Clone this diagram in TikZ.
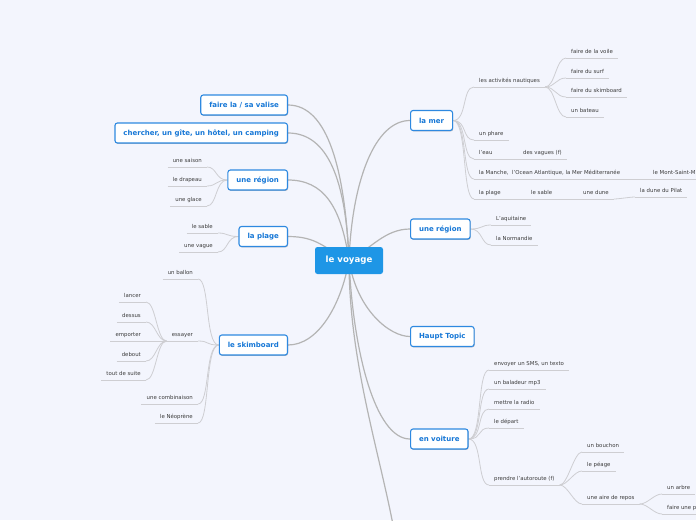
\documentclass[tikz,border=0pt]{standalone}
\usepackage{fontspec}
\setmainfont{DejaVu Sans}
\usetikzlibrary{shadows}
\pgfdeclarelayer{background}
\pgfdeclarelayer{edges}
\pgfsetlayers{background,edges,main}
\definecolor{bgc}{RGB}{243,245,253}
\definecolor{rootblue}{RGB}{30,150,230}
\definecolor{boxblue}{RGB}{46,137,224}
\definecolor{topicblue}{RGB}{22,119,214}
\definecolor{leaftext}{RGB}{60,60,60}
\definecolor{maingray}{RGB}{180,180,180}
\definecolor{subgray}{RGB}{206,206,210}
\begin{document}
\begin{tikzpicture}[x=1pt,y=-1pt,
  topic/.style={draw=boxblue, line width=1.1pt, fill=white, rounded corners=2.5pt,
    text=topicblue, font=\bfseries\fontsize{7.0}{8}\selectfont, inner xsep=8.5pt,
    minimum height=20pt,
    drop shadow={shadow xshift=0.6pt, shadow yshift=-0.9pt, opacity=0.25, fill=black}},
  rootbox/.style={fill=rootblue, rounded corners=2.5pt, text=white,
    font=\bfseries\fontsize{8.6}{10}\selectfont, minimum width=68pt, minimum height=27pt},
  leaf/.style={font=\fontsize{5.4}{6}\selectfont, text=leaftext, inner xsep=5pt,
    inner ysep=4.1pt, text depth=0pt},
  leafR/.style={leaf, anchor=south west},
  leafL/.style={leaf, anchor=south east},
  mainc/.style={draw=maingray, line width=1.2pt},
  subc/.style={draw=subgray, line width=0.8pt},
  uline/.style={draw=subgray, line width=0.8pt}
]
\useasboundingbox (0,0) rectangle (696,520);
\begin{pgfonlayer}{background}
\fill[bgc] (0,0) rectangle (696,520);
\end{pgfonlayer}

% root and topics
\node[rootbox] (root) at (349,260.5) {le voyage};
\node[topic, anchor=east] (valise) at (288,105) {faire la / sa valise};
\node[topic, anchor=east] (cherch) at (288,133) {chercher, un gîte, un hôtel, un camping};
\node[topic, anchor=east] (regL) at (288,180) {une région};
\node[topic, anchor=east] (plageL) at (288,236.5) {la plage};
\node[topic, anchor=east] (skim) at (288,345) {le skimboard};
\node[topic, anchor=west] (mer) at (410,120.5) {la mer};
\node[topic, anchor=west] (regR) at (410,229) {une région};
\node[topic, anchor=west] (haupt) at (410,336.5) {Haupt Topic};
\node[topic, anchor=west] (voit) at (410,439) {en voiture};
\coordinate (off) at (394,530);

% la mer leaves
\node[leafR] (act) at (474,87) {les activités nautiques};
\node[leafR] (voile) at (566,58) {faire de la voile};
\node[leafR] (surf) at (566,78) {faire du surf};
\node[leafR] (skb) at (566,97) {faire du skimboard};
\node[leafR] (bateau) at (566,117) {un bateau};
\node[leafR] (phare) at (474,140) {un phare};
\node[leafR] (eau) at (474,159) {l'eau};
\node[leafR] (vagues) at (518,159) {des vagues (f)};
\node[leafR] (manche) at (474,179) {la Manche,};
\node[leafR] (ocean) at (507,179) {l'Ocean Atlantique, la Mer Méditerranée};
\node[leafR] (mont) at (648,179) {le Mont-Saint-Michel};
\node[leafR] (plageR) at (474,199) {la plage};
\node[leafR] (sableR) at (526,199) {le sable};
\node[leafR] (dune) at (578,199) {une dune};
\node[leafR] (pilat) at (635,197) {la dune du Pilat};

% une région right
\node[leafR] (aquit) at (491,225) {L'aquitaine};
\node[leafR] (norm) at (491,245) {la Normandie};

% en voiture
\node[leafR] (sms) at (489,370) {envoyer un SMS, un texto};
\node[leafR] (mp3) at (489,389) {un baladeur mp3};
\node[leafR] (radio) at (489,409) {mettre la radio};
\node[leafR] (depart) at (489,428) {le départ};
\node[leafR] (auto) at (489,485) {prendre l'autoroute (f)};
\node[leafR] (bouchon) at (582,452) {un bouchon};
\node[leafR] (peage) at (582,471) {le péage};
\node[leafR] (aire) at (582,504) {une aire de repos};
\node[leafR] (arbre) at (662,494) {un arbre};
\node[leafR] (pause) at (662,514) {faire une pause};

% une région left
\node[leafL] (saison) at (207,167) {une saison};
\node[leafL] (drapeau) at (207,186) {le drapeau};
\node[leafL] (glace) at (207,206) {une glace};

% la plage left
\node[leafL] (sableL) at (218,233) {le sable};
\node[leafL] (vague) at (218,252) {une vague};

% le skimboard
\node[leafL] (ballon) at (198,279) {un ballon};
\node[leafL] (essayer) at (198,341) {essayer};
\node[leafL] (lancer) at (146,302) {lancer};
\node[leafL] (dessus) at (146,322) {dessus};
\node[leafL] (emporter) at (146,341) {emporter};
\node[leafL] (debout) at (146,361) {debout};
\node[leafL] (suite) at (146,380) {tout de suite};
\node[leafL] (combi) at (198,404) {une combinaison};
\node[leafL] (neo) at (198,423) {le Néoprène};

\begin{pgfonlayer}{edges}
% main connectors
\draw[mainc] (valise.east) .. controls +(40,0) and +(-4,-90) .. (root.center);
\draw[mainc] (cherch.east) .. controls +(40,0) and +(-3,-80) .. (root.center);
\draw[mainc] (regL.east) .. controls +(35,0) and +(-8,-55) .. (root.center);
\draw[mainc] (plageL.east) .. controls +(30,0) and +(-25,-12) .. (root.center);
\draw[mainc] (skim.east) .. controls +(30,0) and +(-8,45) .. (root.center);
\draw[mainc] (mer.west) .. controls +(-35,0) and +(3,-80) .. (root.center);
\draw[mainc] (regR.west) .. controls +(-25,0) and +(22,-12) .. (root.center);
\draw[mainc] (haupt.west) .. controls +(-20,0) and +(8,50) .. (root.center);
\draw[mainc] (voit.west) .. controls +(-35,0) and +(4,90) .. (root.center);
\draw[mainc] (off) .. controls +(-15,-80) and +(0,100) .. (root.center);

% underlines
\foreach \n in {act,voile,surf,skb,bateau,phare,eau,vagues,manche,ocean,mont,plageR,sableR,dune,pilat,
  aquit,norm,sms,mp3,radio,depart,auto,bouchon,peage,aire,arbre,pause,
  saison,drapeau,glace,sableL,vague,ballon,essayer,lancer,dessus,emporter,debout,suite,combi,neo}
  \draw[uline] (\n.south west) -- (\n.south east);

% right sub connectors
\foreach \n in {act,phare,eau,manche,plageR}
  \draw[subc] (mer.east) .. controls +(14,0) and +(-12,0) .. (\n.south west);
\foreach \n in {voile,surf,skb,bateau}
  \draw[subc] (act.south east) .. controls +(10,0) and +(-10,0) .. (\n.south west);
\draw[subc] (eau.south east) -- (vagues.south west);
\draw[subc] (manche.south east) -- (ocean.south west);
\draw[subc] (ocean.south east) -- (mont.south west);
\draw[subc] (plageR.south east) -- (sableR.south west);
\draw[subc] (sableR.south east) -- (dune.south west);
\draw[subc] (dune.south east) .. controls +(5,0) and +(-5,0) .. (pilat.south west);
\foreach \n in {aquit,norm}
  \draw[subc] (regR.east) .. controls +(12,0) and +(-10,0) .. (\n.south west);
\foreach \n in {sms,mp3,radio,depart,auto}
  \draw[subc] (voit.east) .. controls +(14,0) and +(-12,0) .. (\n.south west);
\foreach \n in {bouchon,peage,aire}
  \draw[subc] (auto.south east) .. controls +(8,0) and +(-8,0) .. (\n.south west);
\foreach \n in {arbre,pause}
  \draw[subc] (aire.south east) .. controls +(8,0) and +(-8,0) .. (\n.south west);

% left sub connectors
\foreach \n in {saison,drapeau,glace}
  \draw[subc] (regL.west) .. controls +(-12,0) and +(10,0) .. (\n.south east);
\foreach \n in {sableL,vague}
  \draw[subc] (plageL.west) .. controls +(-12,0) and +(10,0) .. (\n.south east);
\foreach \n in {ballon,essayer,combi,neo}
  \draw[subc] (skim.west) .. controls +(-14,0) and +(12,0) .. (\n.south east);
\foreach \n in {lancer,dessus,emporter,debout,suite}
  \draw[subc] (essayer.south west) .. controls +(-10,0) and +(10,0) .. (\n.south east);
\end{pgfonlayer}
\end{tikzpicture}
\end{document}
